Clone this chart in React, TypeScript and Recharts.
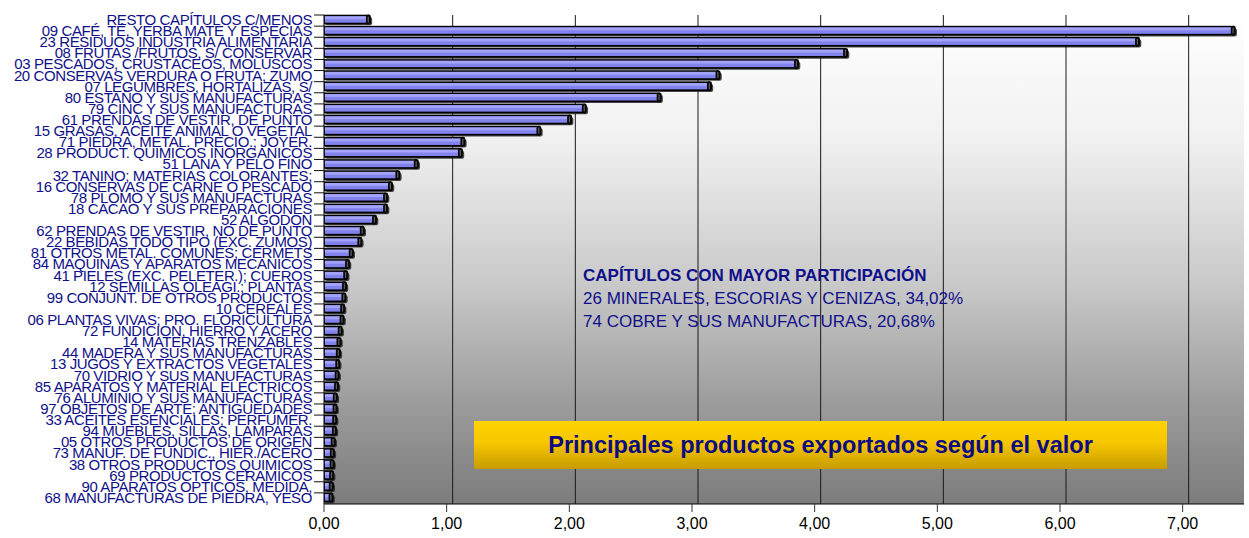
import React from 'react';
import { BarChart, Bar, XAxis, YAxis, CartesianGrid } from 'recharts';

const categories = [
  'RESTO CAPÍTULOS C/MENOS',
  '09 CAFÉ, TÉ, YERBA MATE Y ESPECIAS',
  '23 RESIDUOS INDUSTRIA ALIMENTARIA',
  '08 FRUTAS /FRUTOS, S/ CONSERVAR',
  '03 PESCADOS, CRUSTÁCEOS, MOLUSCOS',
  '20 CONSERVAS VERDURA O FRUTA; ZUMO',
  '07 LEGUMBRES, HORTALIZAS, S/',
  '80 ESTAÑO Y SUS MANUFACTURAS',
  '79 CINC Y SUS MANUFACTURAS',
  '61 PRENDAS DE VESTIR, DE PUNTO',
  '15 GRASAS, ACEITE ANIMAL O VEGETAL',
  '71 PIEDRA, METAL. PRECIO.; JOYER.',
  '28 PRODUCT. QUIMICOS INORGANICOS',
  '51 LANA Y PELO FINO',
  '32 TANINO; MATERIAS COLORANTES;',
  '16 CONSERVAS DE CARNE O PESCADO',
  '78 PLOMO Y SUS MANUFACTURAS',
  '18 CACAO Y SUS PREPARACIONES',
  '52 ALGODON',
  '62 PRENDAS DE VESTIR, NO DE PUNTO',
  '22 BEBIDAS TODO TIPO (EXC. ZUMOS)',
  '81 OTROS METAL. COMUNES; CERMETS',
  '84 MAQUINAS Y APARATOS MECANICOS',
  '41 PIELES (EXC. PELETER.); CUEROS',
  '12 SEMILLAS OLEAGI.; PLANTAS',
  '99 CONJUNT. DE OTROS PRODUCTOS',
  '10 CEREALES',
  '06 PLANTAS VIVAS; PRO. FLORICULTURA',
  '72 FUNDICION, HIERRO Y ACERO',
  '14 MATERIAS TRENZABLES',
  '44 MADERA Y SUS MANUFACTURAS',
  '13 JUGOS Y EXTRACTOS VEGETALES',
  '70 VIDRIO Y SUS MANUFACTURAS',
  '85 APARATOS Y MATERIAL ELECTRICOS',
  '76 ALUMINIO Y SUS MANUFACTURAS',
  '97 OBJETOS DE ARTE; ANTIGUEDADES',
  '33 ACEITES ESENCIALES; PERFUMER.',
  '94 MUEBLES, SILLAS, LAMPARAS',
  '05 OTROS PRODUCTOS DE ORIGEN',
  '73 MANUF. DE FUNDIC., HIER./ACERO',
  '38 OTROS PRODUCTOS QUIMICOS',
  '69 PRODUCTOS CERAMICOS',
  '90 APARATOS OPTICOS, MEDIDA,',
  '68 MANUFACTURAS DE PIEDRA, YESO',
];

const values = [
  0.36, 7.41, 6.63, 4.25, 3.85, 3.21, 3.14, 2.73, 2.12, 2.0,
  1.75, 1.13, 1.11, 0.75, 0.6, 0.54, 0.5, 0.5, 0.41, 0.31,
  0.29, 0.22, 0.19, 0.175, 0.165, 0.16, 0.15, 0.145, 0.13, 0.12,
  0.115, 0.11, 0.105, 0.1, 0.09, 0.088, 0.085, 0.083, 0.073, 0.066,
  0.064, 0.06, 0.057, 0.055,
];

const xTicks = [0, 1, 2, 3, 4, 5, 6, 7];
const gridValues = [1, 2, 3, 4, 5, 6, 7];
const xDomain = [0, 7.5];

const noteTitle = 'CAPÍTULOS CON MAYOR PARTICIPACIÓN';
const noteLines = [
  '26 MINERALES, ESCORIAS Y CENIZAS, 34,02%',
  '74 COBRE Y SUS MANUFACTURAS, 20,68%',
];
const chartTitle = 'Principales productos exportados según el valor';

const data = categories.map((name, i) => ({ name, value: values[i] }));

const NAVY = '#10108a';
const FONT = '"Liberation Sans", Arial, Helvetica, sans-serif';
const DEPTH = 6;

const fmt = (v: number) => v.toFixed(2).replace('.', ',');

const Bar3D = (props: any) => {
  const { x, y, width, height } = props;
  if (x == null || y == null) return null;
  const w = Math.max(width || 0, 0);
  const h = height;
  const yy = y - 1.5;
  return (
    <g>
      <rect x={x + 1} y={yy + 1.8} width={w + 3} height={h} rx={2} fill="#1e1e1e" opacity={0.8} />
      <rect x={x} y={yy} width={w} height={h} fill="#8282ec" stroke="#000" strokeWidth={1.6} />
      <rect x={x + 0.8} y={yy + 0.8} width={Math.max(w - 1.6, 0)} height={h * 0.36} fill="#a3a3fa" />
      <rect x={x + w - 2.2} y={yy - 0.9} width={5} height={h + 2} rx={2.4} fill="#050505" />
      <rect x={x + w - 0.5} y={yy + 0.9} width={1.3} height={h - 1.8} rx={0.6} fill="#5c5c5c" />
    </g>
  );
};

const CatTick = (props: any) => {
  const { x, y, payload, height, visibleTicksCount } = props;
  const band = height && visibleTicksCount ? height / visibleTicksCount : 11.1;
  const ty = y - band / 2;
  return (
    <g>
      <line x1={x + 2} x2={x + 12} y1={ty} y2={ty} stroke="#111" strokeWidth={1} />
      <text
        x={x}
        y={y + 4.4}
        textAnchor="end"
        fill={NAVY}
        fontSize={15}
        letterSpacing={-0.4}
        fontFamily={FONT}
      >
        {payload.value}
      </text>
    </g>
  );
};

const gridGen = (args: any) => {
  const xa = args && args.xAxis;
  if (xa && typeof xa.scale === 'function') {
    const r = gridValues.map((t) => xa.scale(t) + DEPTH);
    if (r.every((v) => Number.isFinite(v))) return r;
  }
  const off = args && args.offset;
  if (off && Number.isFinite(off.left) && Number.isFinite(off.width)) {
    return gridValues.map((t) => off.left + (t / xDomain[1]) * off.width + DEPTH);
  }
  return undefined as any;
};

export default function App() {
  return (
    <div
      style={{
        position: 'absolute',
        left: 0,
        top: 0,
        width: 1249,
        height: 538,
        background: '#fff',
        fontFamily: FONT,
      }}
    >
      <BarChart
        width={1249}
        height={538}
        data={data}
        layout="vertical"
        margin={{ top: 15, right: 5, bottom: 0, left: 0 }}
        barSize={8}
      >
        <defs>
          <linearGradient id="wallGrad" x1="0" y1="0" x2="0" y2="1">
            <stop offset="0" stopColor="#ffffff" />
            <stop offset="0.25" stopColor="#f1f1f1" />
            <stop offset="0.55" stopColor="#c9c9c9" />
            <stop offset="0.8" stopColor="#9b9b9b" />
            <stop offset="1" stopColor="#7c7c7c" />
          </linearGradient>
        </defs>
        <CartesianGrid
          horizontal={false}
          vertical={true}
          fill="url(#wallGrad)"
          fillOpacity={1}
          stroke="#1a1a1a"
          strokeWidth={1}
          verticalValues={gridValues}
          verticalCoordinatesGenerator={gridGen}
        />
        <XAxis
          type="number"
          domain={xDomain}
          ticks={xTicks}
          tickFormatter={fmt}
          height={34}
          tickSize={8}
          tickMargin={6}
          axisLine={{ stroke: '#000' }}
          tickLine={{ stroke: '#333' }}
          tick={{ fill: '#000', fontSize: 16, fontFamily: FONT }}
          allowDataOverflow
        />
        <YAxis
          type="category"
          dataKey="name"
          width={324}
          interval={0}
          tickLine={false}
          tickSize={10}
          tickMargin={2}
          axisLine={{ stroke: '#000' }}
          tick={<CatTick />}
        />
        <Bar dataKey="value" shape={<Bar3D />} isAnimationActive={false} />
      </BarChart>

      <div
        style={{
          position: 'absolute',
          left: 583,
          top: 264,
          color: NAVY,
          fontSize: 17,
          lineHeight: '23px',
          whiteSpace: 'nowrap',
          fontFamily: FONT,
        }}
      >
        <div style={{ fontWeight: 'bold' }}>{noteTitle}</div>
        {noteLines.map((l) => (
          <div key={l}>{l}</div>
        ))}
      </div>

      <div
        style={{
          position: 'absolute',
          left: 474,
          top: 421,
          width: 693,
          height: 48,
          background: 'linear-gradient(to bottom, #ffd400 0%, #f7c600 45%, #c79c00 100%)',
          display: 'flex',
          alignItems: 'center',
          justifyContent: 'center',
          color: '#0c0c80',
          fontWeight: 'bold',
          fontSize: 23.5,
          fontFamily: FONT,
          whiteSpace: 'nowrap',
        }}
      >
        {chartTitle}
      </div>
    </div>
  );
}
